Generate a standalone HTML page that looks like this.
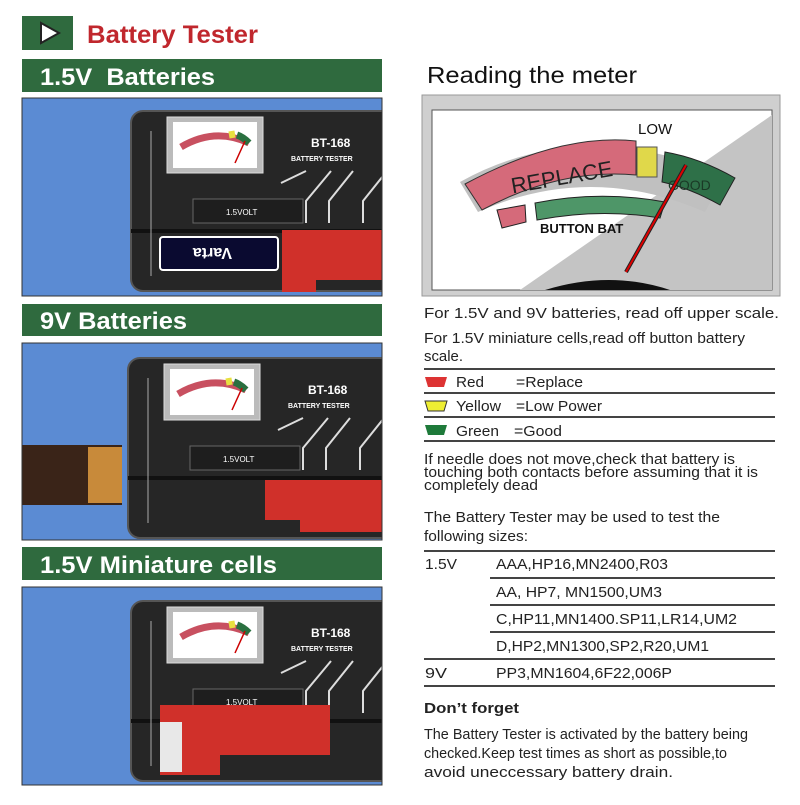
<!DOCTYPE html>
<html><head><meta charset="utf-8"><style>
body{margin:0;background:#fff;width:800px;height:800px;overflow:hidden;font-family:"Liberation Sans",Arial,sans-serif}
</style></head><body>
<svg width="800" height="800" viewBox="0 0 800 800" xmlns="http://www.w3.org/2000/svg" font-family="Liberation Sans, Arial, sans-serif">
<defs>
<clipPath id="c1"><rect x="22" y="98" width="360" height="198"/></clipPath>
<clipPath id="c2"><rect x="22" y="343" width="360" height="197"/></clipPath>
<clipPath id="c3"><rect x="22" y="587" width="360" height="198"/></clipPath>
<g id="dev">
  <rect x="0" y="0" width="280" height="180" rx="12" fill="#262626" stroke="#555" stroke-width="2"/>
  <rect x="36" y="6" width="96" height="56" fill="#bbb" stroke="#ddd"/>
  <rect x="42" y="11" width="84" height="46" fill="#fff"/>
  <path d="M50 36 Q84 16 118 32" stroke="#c85060" stroke-width="7" fill="none"/>
  <path d="M98 24 L104 23" stroke="#e8e040" stroke-width="7"/>
  <path d="M106 24 Q112 26 118 32" stroke="#2a7040" stroke-width="7" fill="none"/>
  <path d="M104 52 L114 30" stroke="#c00" stroke-width="1.5"/>
  <text x="180" y="36" fill="#fff" font-size="12" font-weight="bold">BT-168</text>
  <text x="160" y="50" fill="#fff" font-size="7" font-weight="bold">BATTERY TESTER</text>
  <rect x="62" y="88" width="110" height="24" fill="#1e1e1e" stroke="#666"/>
  <text x="95" y="104" fill="#fff" font-size="8">1.5VOLT</text>
  <path d="M150 72 L175 60 M175 112 L175 90 L200 60 M198 112 L198 90 L222 60 M232 112 L232 90 L256 60" stroke="#ddd" stroke-width="2" fill="none"/>
  <rect x="0" y="118" width="280" height="4" fill="#111"/>
  <path d="M20 20 L20 165" stroke="#aaa" stroke-width="1"/>
</g>
</defs>

<!-- header -->
<rect x="22" y="16" width="51" height="34" fill="#2f6a3e"/>
<path d="M41 23 L59 33 L41 43 Z" fill="#fff" stroke="#222" stroke-width="2"/>
<text x="87" y="43" fill="#c0272d" font-size="25" font-weight="bold" textLength="171" lengthAdjust="spacingAndGlyphs">Battery Tester</text>

<!-- bars -->
<rect x="22" y="59" width="360" height="33" fill="#2f6a3e"/>
<text x="40" y="85" fill="#fff" font-size="24" font-weight="bold" textLength="175" lengthAdjust="spacingAndGlyphs" xml:space="preserve">1.5V  Batteries</text>
<rect x="22" y="304" width="360" height="32" fill="#2f6a3e"/>
<text x="40" y="329" fill="#fff" font-size="24" font-weight="bold" textLength="147" lengthAdjust="spacingAndGlyphs">9V Batteries</text>
<rect x="22" y="547" width="360" height="33" fill="#2f6a3e"/>
<text x="40" y="573" fill="#fff" font-size="24" font-weight="bold" textLength="237" lengthAdjust="spacingAndGlyphs">1.5V Miniature cells</text>

<!-- panel 1 -->
<rect x="22" y="98" width="360" height="198" fill="#5b8bd3"/>
<g clip-path="url(#c1)">
<use href="#dev" x="131" y="111"/>
<rect x="160" y="237" width="118" height="33" rx="3" fill="#0a0a30" stroke="#fff" stroke-width="2"/>
<text x="168" y="260" fill="#fff" font-size="16" font-weight="bold" transform="rotate(180 200 254)">Varta</text>
<path d="M282 230 H382 V280 H316 V292 H282 Z" fill="#d0302a"/>
</g>
<rect x="22" y="98" width="360" height="198" fill="none" stroke="#333"/>

<!-- panel 2 -->
<rect x="22" y="343" width="360" height="197" fill="#5b8bd3"/>
<g clip-path="url(#c2)">
<use href="#dev" x="128" y="358"/>
<rect x="22" y="445" width="100" height="60" fill="#3a2418"/>
<rect x="88" y="447" width="34" height="56" fill="#c88a3a"/>
<path d="M265 480 H382 V532 H300 V520 H265 Z" fill="#d0302a"/>
</g>
<rect x="22" y="343" width="360" height="197" fill="none" stroke="#333"/>

<!-- panel 3 -->
<rect x="22" y="587" width="360" height="198" fill="#5b8bd3"/>
<g clip-path="url(#c3)">
<use href="#dev" x="131" y="601"/>
<path d="M160 705 H330 V755 H220 V775 H160 Z" fill="#d0302a"/>
<rect x="160" y="722" width="22" height="50" fill="#e8e8e8"/>
</g>
<rect x="22" y="587" width="360" height="198" fill="none" stroke="#333"/>

<!-- right side -->
<text x="427" y="83" fill="#111" font-size="23" textLength="210" lengthAdjust="spacingAndGlyphs">Reading the meter</text>
<rect x="422" y="95" width="358" height="201" fill="#cfcfcf" stroke="#999"/>
<rect x="432" y="110" width="340" height="180" fill="#fff" stroke="#555"/>
<path d="M772 115 L772 290 L520 290 Z" fill="#c4c4c4"/>
<path d="M545 290 Q610 270 670 290 Z" fill="#111"/>
<path d="M460 182 Q580 115 725 175 L705 212 Q590 162 478 212 Z" fill="#c0c0c0"/>
<path d="M465 184 Q560 133 636 141 L636 175 Q560 168 482 210 Z" fill="#d56a7a" stroke="#333"/>
<text x="510" y="185" font-size="22" fill="#222" transform="rotate(-10 560 175)">REPLACE</text>
<rect x="637" y="147" width="20" height="30" fill="#e0d84a" stroke="#555"/>
<path d="M665 152 Q700 158 735 178 L720 205 Q690 188 662 182 Z" fill="#2e7048" stroke="#222"/>
<text x="668" y="190" font-size="14" fill="#1a3a26">GOOD</text>
<path d="M497 210 L525 205 L526 222 L502 228 Z" fill="#d56a7a" stroke="#222"/>
<path d="M535 203 Q600 190 665 202 L660 218 Q600 208 537 220 Z" fill="#4e9668" stroke="#222"/>
<text x="540" y="233" font-size="13" font-weight="bold" fill="#111">BUTTON BAT</text>
<text x="638" y="134" font-size="15" fill="#111">LOW</text>
<path d="M626 272 L686 165" stroke="#222" stroke-width="4"/>
<path d="M626 272 L686 165" stroke="#d00" stroke-width="2"/>

<g font-size="15" fill="#222" lengthAdjust="spacingAndGlyphs">
<text x="424" y="318" textLength="355" lengthAdjust="spacingAndGlyphs">For 1.5V and 9V batteries, read off upper scale.</text>
<text x="424" y="343" textLength="321" lengthAdjust="spacingAndGlyphs">For 1.5V miniature cells,read off button battery</text>
<text x="424" y="361" textLength="39" lengthAdjust="spacingAndGlyphs">scale.</text>
<rect x="424" y="368" width="351" height="2" fill="#444"/>
<rect x="424" y="392" width="351" height="2" fill="#444"/>
<rect x="424" y="416" width="351" height="2" fill="#444"/>
<rect x="424" y="440" width="351" height="2" fill="#444"/>
<path d="M425 377 H447 L444 387 H428 Z" fill="#d33"/>
<path d="M425 401 H447 L444 411 H428 Z" fill="#ee3" stroke="#333"/>
<path d="M425 425 H447 L444 435 H428 Z" fill="#1e7a3a"/>
<text x="456" y="387" textLength="28" lengthAdjust="spacingAndGlyphs">Red</text><text x="516" y="387" textLength="67" lengthAdjust="spacingAndGlyphs">=Replace</text>
<text x="456" y="411" textLength="45" lengthAdjust="spacingAndGlyphs">Yellow</text><text x="516" y="411" textLength="86" lengthAdjust="spacingAndGlyphs">=Low Power</text>
<text x="456" y="436" textLength="43" lengthAdjust="spacingAndGlyphs">Green</text><text x="514" y="436" textLength="48" lengthAdjust="spacingAndGlyphs">=Good</text>
<text x="424" y="464" textLength="311" lengthAdjust="spacingAndGlyphs">If needle does not move,check that battery is</text>
<text x="424" y="477" textLength="334" lengthAdjust="spacingAndGlyphs">touching both contacts before assuming that it is</text>
<text x="424" y="490" textLength="114" lengthAdjust="spacingAndGlyphs">completely dead</text>
<text x="424" y="522" textLength="296" lengthAdjust="spacingAndGlyphs">The Battery Tester may be used to test the</text>
<text x="424" y="541" textLength="104" lengthAdjust="spacingAndGlyphs">following sizes:</text>
<rect x="424" y="550" width="351" height="2" fill="#444"/>
<text x="425" y="569" textLength="32" lengthAdjust="spacingAndGlyphs">1.5V</text>
<text x="496" y="569" textLength="172" lengthAdjust="spacingAndGlyphs">AAA,HP16,MN2400,R03</text>
<rect x="490" y="577" width="285" height="2" fill="#444"/>
<text x="496" y="597" textLength="166" lengthAdjust="spacingAndGlyphs">AA, HP7, MN1500,UM3</text>
<rect x="490" y="604" width="285" height="2" fill="#444"/>
<text x="496" y="624" textLength="241" lengthAdjust="spacingAndGlyphs">C,HP11,MN1400.SP11,LR14,UM2</text>
<rect x="490" y="631" width="285" height="2" fill="#444"/>
<text x="496" y="651" textLength="213" lengthAdjust="spacingAndGlyphs">D,HP2,MN1300,SP2,R20,UM1</text>
<rect x="424" y="658" width="351" height="2" fill="#444"/>
<text x="425" y="678" textLength="22" lengthAdjust="spacingAndGlyphs">9V</text>
<text x="496" y="678" textLength="176" lengthAdjust="spacingAndGlyphs">PP3,MN1604,6F22,006P</text>
<rect x="424" y="685" width="351" height="2" fill="#444"/>
<text x="424" y="713" font-weight="bold" textLength="95" lengthAdjust="spacingAndGlyphs">Don’t forget</text>
<text x="424" y="739" textLength="324" lengthAdjust="spacingAndGlyphs">The Battery Tester is activated by the battery being</text>
<text x="424" y="758" textLength="303" lengthAdjust="spacingAndGlyphs">checked.Keep test times as short as possible,to</text>
<text x="424" y="777" textLength="249" lengthAdjust="spacingAndGlyphs">avoid uneccessary battery drain.</text>
</g>
</svg>
</body></html>
